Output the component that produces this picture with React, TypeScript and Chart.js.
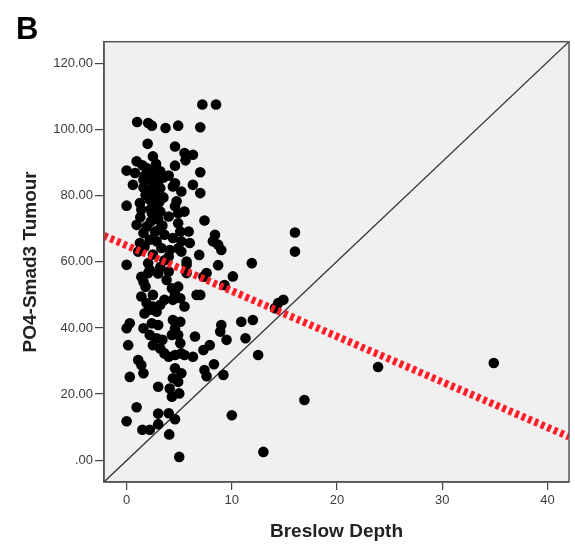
import React, { useEffect, useRef } from "react";
import { Chart, registerables } from "chart.js";

Chart.register(...registerables);

// Breslow depth (x) and PO4-Smad3 tumour score (y)
const breslowDepth: number[] = [
  7.2, 8.5, 1.0, 2.05, 2.4, 3.7, 4.9, 7.0, 2.0, 4.6,
  5.5, 6.3, 5.6, 2.5, 0.95, 0, 0.8, 1.9, 2.2, 3.2,
  4.0, 4.6, 7.0, 1.5, 2.8, 3.5, 2.7, 1.6, 2.5, 0.6,
  6.3, 4.6, 3.2, 4.4, 5.2, 7.0, 0, 1.26, 1.4, 2.2,
  2.85, 3.2, 2.4, 4.6, 4.9, 5.5, 4.75, 2.0, 2.8, 3.5,
  1.8, 3.0, 1.6, 2.5, 4.0, 7.4, 0.95, 1.9, 1.6, 2.7,
  3.2, 3.6, 2.85, 4.9, 5.1, 5.9, 6.0, 5.2, 4.4, 4.1,
  4.9, 1.26, 2.2, 1.7, 1.1, 4.0, 5.2, 5.7, 6.9, 8.4,
  8.2, 8.7, 9.0, 16.0, 16.0, 2.3, 3.0, 3.3, 2.5, 3.6,
  0, 2.05, 2.2, 3.2, 5.7, 11.9, 7.6, 10.1, 1.6, 1.4,
  2.05, 3.0, 4.0, 5.7, 7.3, 9.3, 4.3, 4.6, 4.9, 6.65,
  7.0, 2.5, 8.7, 1.8, 3.8, 5.1, 4.4, 5.5, 1.4, 1.9,
  3.2, 2.2, 2.85, 1.7, 14.9, 14.4, 14.1, 0.3, 2.4, 3.0,
  4.4, 5.1, 9.0, 10.9, 12.0, 2.5, 3.6, 0, 1.6, 2.2,
  2.85, 2.5, 0.15, 4.6, 4.9, 5.1, 4.3, 3.2, 3.6, 4.0,
  4.6, 5.2, 6.5, 7.3, 7.9, 8.9, 9.5, 11.3, 12.5, 6.3,
  5.5, 1.1, 3.4, 1.4, 1.6, 0.3, 4.6, 5.2, 4.9, 4.4,
  8.3, 7.4, 7.6, 9.2, 23.9, 34.9, 3.0, 4.1, 4.3, 5.0,
  0.95, 0, 3.0, 4.0, 4.6, 1.5, 2.2, 3.0, 4.05, 10.0,
  5.0, 13.0, 16.9, 2.1, 2.6, 3.1, 1.3, 2.3, 3.4, 1.7,
];

const po4Smad3: number[] = [
  107.6, 107.6, 102.3, 102.0, 101.2, 100.5, 101.2, 100.7, 95.7, 94.9,
  92.9, 92.4, 90.7, 91.9, 90.4, 87.6, 86.9, 88.4, 86.4, 87.4,
  86.1, 89.1, 87.1, 89.2, 89.6, 85.5, 86.8, 84.8, 84.6, 83.3,
  83.3, 83.8, 82.3, 82.8, 81.3, 80.8, 77.0, 77.8, 75.8, 78.8,
  77.3, 75.2, 74.7, 76.8, 74.7, 75.2, 78.3, 81.0, 80.5, 79.5,
  80.2, 84.0, 82.5, 82.8, 73.7, 72.5, 71.2, 70.7, 68.7, 69.2,
  70.2, 68.2, 66.2, 71.7, 69.2, 69.2, 65.7, 66.2, 67.2, 63.6,
  64.1, 65.7, 66.7, 64.6, 63.1, 61.6, 63.1, 60.1, 62.1, 68.2,
  66.2, 65.2, 63.6, 68.9, 63.1, 72.2, 73.0, 64.2, 62.2, 60.5,
  59.1, 59.6, 57.6, 58.4, 59.1, 59.6, 56.6, 55.6, 54.0, 55.5,
  56.6, 56.5, 57.1, 56.6, 55.5, 53.0, 52.0, 50.3, 52.5, 50.0,
  50.0, 50.0, 59.0, 52.5, 54.5, 49.0, 48.5, 46.5, 49.5, 47.5,
  47.0, 45.5, 44.9, 44.4, 48.5, 47.5, 46.0, 41.4, 41.4, 40.9,
  42.4, 41.9, 40.9, 41.9, 42.4, 46.5, 48.5, 39.9, 39.9, 37.9,
  36.9, 34.8, 34.8, 39.9, 37.9, 35.4, 37.9, 33.8, 32.3, 31.3,
  31.8, 32.3, 37.4, 33.3, 34.8, 38.9, 36.4, 36.9, 31.8, 31.3,
  31.8, 30.3, 36.4, 28.8, 26.3, 25.2, 27.8, 26.3, 23.7, 24.8,
  29.0, 27.3, 25.4, 25.8, 28.2, 29.4, 22.2, 21.7, 19.2, 20.2,
  16.0, 11.8, 14.1, 14.2, 12.4, 9.2, 9.2, 10.9, 7.8, 13.6,
  1.0, 2.5, 18.2, 85.0, 87.8, 78.0, 73.5, 76.0, 71.0, 86.0,
];

// Fit line (red dashed) and reference line endpoints
const fitLineX: number[] = [-2.15, 42.05];
const fitLineY: number[] = [67.9, 7.1];
const refLineX: number[] = [-2.15, 42.05];
const refLineY: number[] = [-6.6, 126.6];

// Axis ticks
const xTicks: number[] = [0, 10, 20, 30, 40];
const yTicks: number[] = [0, 20, 40, 60, 80, 100, 120];
const xRange: number[] = [-2.15, 42.05];
const yRange: number[] = [-6.6, 126.6];

const FONT = "'Liberation Sans', Arial, sans-serif";

const framePlugin = {
  id: "frame",
  beforeDraw(chart: any) {
    const { ctx, chartArea } = chart;
    const { left, top, right, bottom } = chartArea;
    ctx.save();
    ctx.fillStyle = "#ffffff";
    ctx.fillRect(0, 0, chart.width, chart.height);
    ctx.fillStyle = "#f0f0f0";
    ctx.fillRect(left, top, right - left, bottom - top);
    ctx.restore();
  },
  afterDraw(chart: any) {
    const { ctx, chartArea } = chart;
    const { left, top, right, bottom } = chartArea;
    ctx.save();
    ctx.strokeStyle = "#555555";
    ctx.lineWidth = 1.5;
    ctx.strokeRect(left, top, right - left, bottom - top);
    ctx.fillStyle = "#000000";
    ctx.font = `bold 31px ${FONT}`;
    ctx.textBaseline = "alphabetic";
    ctx.textAlign = "left";
    ctx.fillText("B", 16, 39);
    ctx.restore();
  },
};

export default function App() {
  const ref = useRef<HTMLCanvasElement | null>(null);

  useEffect(() => {
    if (!ref.current) return;
    const points = breslowDepth.map((x, i) => ({ x, y: po4Smad3[i] }));
    const fit = fitLineX.map((x, i) => ({ x, y: fitLineY[i] }));
    const refl = refLineX.map((x, i) => ({ x, y: refLineY[i] }));

    const chart = new Chart(ref.current, {
      type: "scatter",
      data: {
        datasets: [
          {
            type: "line",
            label: "Fit",
            data: fit,
            borderColor: "rgb(255, 30, 40)",
            borderWidth: 7.5,
            borderDash: [3.8, 3.2],
            pointRadius: 0,
            fill: false,
            order: 0,
          } as any,
          {
            label: "Cases",
            data: points,
            backgroundColor: "#000000",
            borderWidth: 0,
            pointRadius: 5.3,
            order: 1,
          },
          {
            type: "line",
            label: "Reference",
            data: refl,
            borderColor: "#333333",
            borderWidth: 1.3,
            pointRadius: 0,
            fill: false,
            order: 2,
          } as any,
        ],
      },
      options: {
        animation: false,
        responsive: false,
        devicePixelRatio: 1,
        layout: { padding: { top: 41.7, right: 6, left: 0, bottom: 0 } },
        plugins: { legend: { display: false }, tooltip: { enabled: false } },
        scales: {
          x: {
            type: "linear",
            min: xRange[0],
            max: xRange[1],
            afterFit: (s: any) => {
              s.height = 64;
            },
            afterBuildTicks: (s: any) => {
              s.ticks = xTicks.map((v) => ({ value: v }));
            },
            grid: {
              display: true,
              drawOnChartArea: false,
              drawTicks: true,
              tickLength: 8,
              color: "#444444",
              lineWidth: 1.2,
            },
            border: { display: true, color: "#555555", width: 1.5 },
            ticks: {
              color: "#3a3a3a",
              font: { family: FONT, size: 13 },
              padding: 3,
              maxRotation: 0,
              callback: (v: any) => String(v),
            },
            title: {
              display: true,
              text: "Breslow Depth",
              color: "#222222",
              font: { family: FONT, size: 19, weight: "bold" },
              padding: { top: 0, bottom: 3 },
            },
          },
          y: {
            type: "linear",
            min: yRange[0],
            max: yRange[1],
            afterFit: (s: any) => {
              s.width = 104;
            },
            afterBuildTicks: (s: any) => {
              s.ticks = yTicks.map((v) => ({ value: v }));
            },
            grid: {
              display: true,
              drawOnChartArea: false,
              drawTicks: true,
              tickLength: 9,
              color: "#444444",
              lineWidth: 1.2,
            },
            border: { display: true, color: "#555555", width: 1.5 },
            ticks: {
              color: "#3a3a3a",
              font: { family: FONT, size: 13 },
              padding: 2,
              callback: (v: any) => (Number(v) === 0 ? ".00" : Number(v).toFixed(2)),
            },
            title: {
              display: true,
              text: "PO4-Smad3 Tumour",
              color: "#222222",
              font: { family: FONT, size: 19, weight: "bold" },
              padding: { top: 19.6, bottom: 0 },
            },
          },
        },
      },
      plugins: [framePlugin],
    });
    return () => chart.destroy();
  }, []);

  return (
    <div
      style={{
        position: "fixed",
        left: 0,
        top: 0,
        width: 575,
        height: 546,
        background: "#ffffff",
      }}
    >
      <canvas ref={ref} width={575} height={546} style={{ display: "block" }} />
    </div>
  );
}
